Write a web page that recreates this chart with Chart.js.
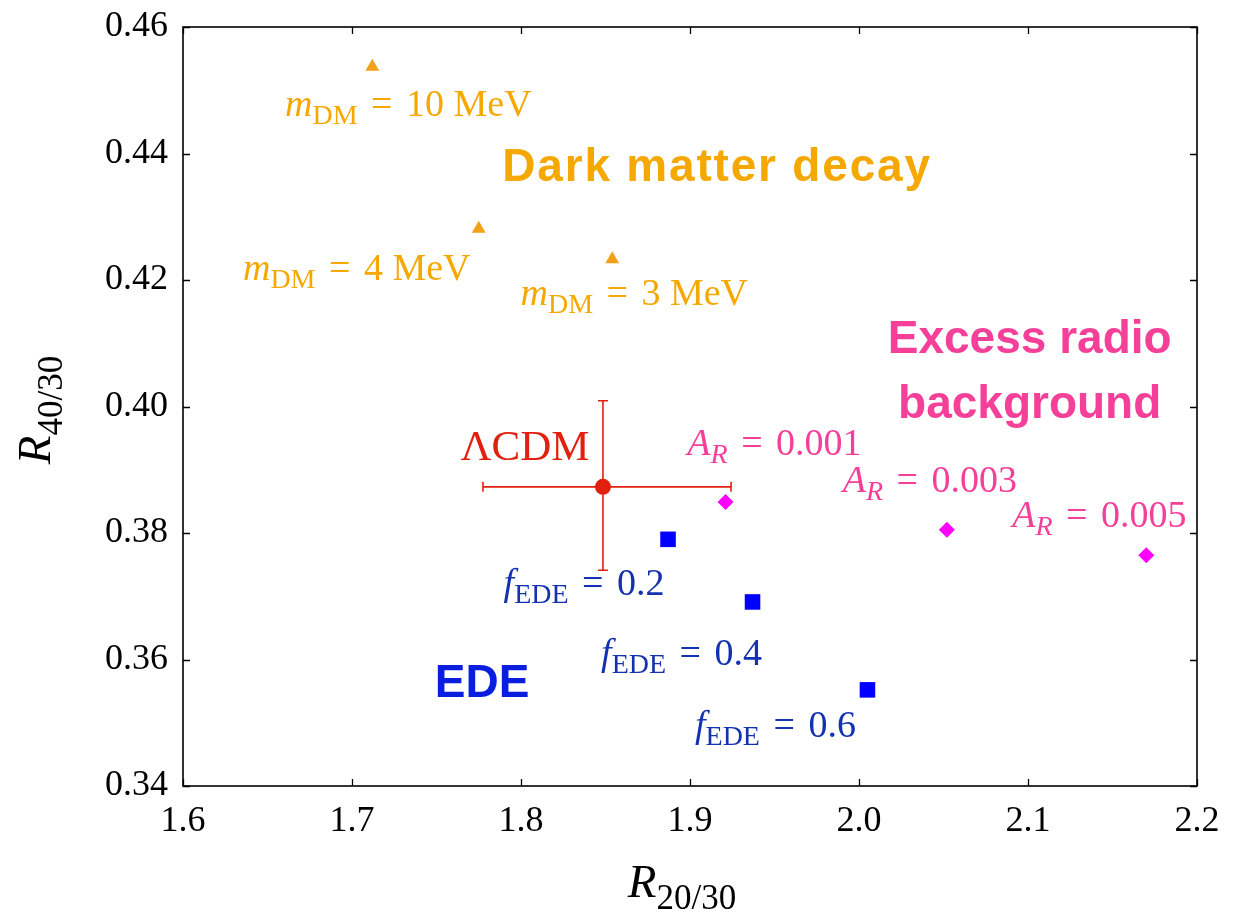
<!DOCTYPE html>
<html><head><meta charset="utf-8">
<script src="https://cdn.jsdelivr.net/npm/chart.js@4.4.1/dist/chart.umd.min.js"></script>
<style>html,body{margin:0;padding:0;background:#fff}</style></head>
<body>
<canvas id="c" width="1236" height="923"></canvas>
<script>
// ---- data ----
const dmX = [1.712, 1.775, 1.854];
const dmY = [0.4537, 0.4281, 0.4233];
const dmMass = ['10', '4', '3'];

const lcdmX = [1.8485];
const lcdmY = [0.3873];
const lcdmXLow = [1.7775];
const lcdmXHigh = [1.9243];
const lcdmYLow = [0.3741];
const lcdmYHigh = [0.4009];

const edeX = [1.887, 1.937, 2.005];
const edeY = [0.3790, 0.3691, 0.3552];
const edeF = ['0.2', '0.4', '0.6'];

const radioX = [1.921, 2.052, 2.170];
const radioY = [0.3849, 0.3805, 0.3765];
const radioA = ['0.001', '0.003', '0.005'];

const xTickVals = [1.6, 1.7, 1.8, 1.9, 2.0, 2.1, 2.2];
const yTickVals = [0.34, 0.36, 0.38, 0.40, 0.42, 0.44, 0.46];

// ---- styling ----
const SERIF = '"Liberation Serif", "DejaVu Serif", serif';
const SANS = '"Liberation Sans", Arial, sans-serif';
const C_OR = '#F5A800', C_ORM = '#F2A01A';
const C_RED = '#E2200F';
const C_BLUE = '#0000FF', C_BLUE_T = '#1432B0', C_BLUE_H = '#0A1EE0';
const C_MAG = '#FF00FF', C_PINK = '#F5409A';

const pts = (xs, ys) => xs.map((x, i) => ({x, y: ys[i]}));

function drawRich(ctx, segs, cx, base, color, align) {
  ctx.save();
  ctx.fillStyle = color;
  ctx.textBaseline = 'alphabetic';
  ctx.textAlign = 'left';
  let w = 0;
  for (const s of segs) { ctx.font = s.f; w += ctx.measureText(s.t).width + (s.gap || 0); }
  let x = align === 'left' ? cx : cx - w / 2;
  for (const s of segs) {
    ctx.font = s.f;
    ctx.fillText(s.t, x, base + (s.dy || 0));
    x += ctx.measureText(s.t).width + (s.gap || 0);
  }
  ctx.restore();
}

const MS = 38, SS = 28;
const it = (t, sz) => ({t, f: `italic ${sz || MS}px ${SERIF}`});
const up = (t, sz, gap) => ({t, f: `${sz || MS}px ${SERIF}`, gap: gap || 0});
const sub = (t, ital) => ({t, f: `${ital ? 'italic ' : ''}${SS}px ${SERIF}`, dy: 8, gap: 0});

function mathLabel(sym, subTxt, subItal, rhs) {
  return [it(sym), sub(subTxt, subItal), up(' ', MS, 4), up('=', MS, 4), up(' ' + rhs)];
}

const annot = {
  id: 'annot',
  beforeDatasetsDraw(chart) {
    const {ctx, scales: {x, y}} = chart;
    ctx.save();
    ctx.strokeStyle = C_RED;
    ctx.lineWidth = 1.6;
    for (let i = 0; i < lcdmX.length; i++) {
      const px = x.getPixelForValue(lcdmX[i]), py = y.getPixelForValue(lcdmY[i]);
      const x0 = x.getPixelForValue(lcdmXLow[i]), x1 = x.getPixelForValue(lcdmXHigh[i]);
      const y0 = y.getPixelForValue(lcdmYLow[i]), y1 = y.getPixelForValue(lcdmYHigh[i]);
      const cap = 5;
      ctx.beginPath();
      ctx.moveTo(x0, py); ctx.lineTo(x1, py);
      ctx.moveTo(x0, py - cap); ctx.lineTo(x0, py + cap);
      ctx.moveTo(x1, py - cap); ctx.lineTo(x1, py + cap);
      ctx.moveTo(px, y0); ctx.lineTo(px, y1);
      ctx.moveTo(px - cap, y0); ctx.lineTo(px + cap, y0);
      ctx.moveTo(px - cap, y1); ctx.lineTo(px + cap, y1);
      ctx.stroke();
    }
    ctx.restore();
  },
  afterDatasetsDraw(chart) {
    const {ctx, chartArea: a, scales: {x, y}} = chart;
    // frame
    ctx.save();
    ctx.strokeStyle = '#000';
    ctx.lineWidth = 1.6;
    ctx.strokeRect(a.left, a.top, a.right - a.left, a.bottom - a.top);
    const tl = 7;
    ctx.beginPath();
    for (const v of xTickVals) {
      const px = Math.round(x.getPixelForValue(v)) + 0.5;
      ctx.moveTo(px, a.bottom); ctx.lineTo(px, a.bottom - tl);
      ctx.moveTo(px, a.top); ctx.lineTo(px, a.top + tl);
    }
    for (const v of yTickVals) {
      const py = Math.round(y.getPixelForValue(v)) + 0.5;
      ctx.moveTo(a.left, py); ctx.lineTo(a.left + tl, py);
      ctx.moveTo(a.right, py); ctx.lineTo(a.right - tl, py);
    }
    ctx.lineWidth = 1.3;
    ctx.stroke();
    ctx.restore();

    // axis titles
    drawRich(ctx, [{t: 'R', f: `italic 47px ${SERIF}`}, {t: '20/30', f: `35px ${SERIF}`, dy: 12}],
      682, 897, '#000');
    ctx.save();
    ctx.translate(50, 410);
    ctx.rotate(-Math.PI / 2);
    drawRich(ctx, [{t: 'R', f: `italic 47px ${SERIF}`}, {t: '40/30', f: `35px ${SERIF}`, dy: 12}],
      0, 0, '#000');
    ctx.restore();

    const P = (xs, ys, i) => [x.getPixelForValue(xs[i]), y.getPixelForValue(ys[i])];

    // dark matter labels
    const dmOff = [[36, 49], [-122, 51], [22, 46]];
    dmX.forEach((_, i) => {
      const [px, py] = P(dmX, dmY, i);
      drawRich(ctx, mathLabel('m', 'DM', false, dmMass[i] + ' MeV'), px + dmOff[i][0], py + dmOff[i][1], C_OR);
    });
    // radio labels
    const raOff = [[49, -47], [-17, -38], [-47, -28]];
    radioX.forEach((_, i) => {
      const [px, py] = P(radioX, radioY, i);
      drawRich(ctx, mathLabel('A', 'R', true, radioA[i]), px + raOff[i][0], py + raOff[i][1], C_PINK);
    });
    // EDE labels
    const edOff = [[-84, 56], [-71, 63], [-92, 47]];
    edeX.forEach((_, i) => {
      const [px, py] = P(edeX, edeY, i);
      drawRich(ctx, mathLabel('f', 'EDE', false, edeF[i]), px + edOff[i][0], py + edOff[i][1], C_BLUE_T);
    });
    // LCDM label
    {
      const [px, py] = P(lcdmX, lcdmY, 0);
      drawRich(ctx, [up('\u039BCDM', 43)], px - 78, py - 27, C_RED);
    }
    // group titles (data coordinates)
    const grp = (txt, gx, gy, col, ls) => {
      ctx.save();
      ctx.font = `bold 46px ${SANS}`;
      if (ls) ctx.letterSpacing = ls;
      ctx.fillStyle = col;
      ctx.textAlign = 'center';
      ctx.textBaseline = 'middle';
      ctx.fillText(txt, x.getPixelForValue(gx), y.getPixelForValue(gy));
      ctx.restore();
    };
    grp('Dark matter decay', 1.916, 0.4377, C_OR, '1.8px');
    grp('Excess radio', 2.101, 0.4105, C_PINK);
    grp('background', 2.101, 0.4002, C_PINK);
    grp('EDE', 1.777, 0.356, C_BLUE_H);
  }
};

const noPad = s => { s.paddingTop = 0; s.paddingBottom = 0; s.paddingLeft = 0; s.paddingRight = 0; };

new Chart(document.getElementById('c'), {
  type: 'scatter',
  data: {
    datasets: [
      {label: 'Dark matter decay', data: pts(dmX, dmY), pointStyle: 'triangle', pointRadius: 8,
        backgroundColor: C_ORM, borderColor: C_ORM, borderWidth: 0},
      {label: 'LCDM', data: pts(lcdmX, lcdmY), pointStyle: 'circle', pointRadius: 8,
        backgroundColor: C_RED, borderColor: C_RED, borderWidth: 0},
      {label: 'EDE', data: pts(edeX, edeY), pointStyle: 'rect', pointRadius: 11,
        backgroundColor: C_BLUE, borderColor: C_BLUE, borderWidth: 0},
      {label: 'Excess radio', data: pts(radioX, radioY), pointStyle: 'rectRot', pointRadius: 8,
        backgroundColor: C_MAG, borderColor: C_MAG, borderWidth: 0}
    ]
  },
  options: {
    responsive: false,
    animation: false,
    devicePixelRatio: 1,
    layout: {padding: {left: 0, top: 27, right: 39, bottom: 0}},
    plugins: {legend: {display: false}, tooltip: {enabled: false}},
    scales: {
      x: {
        type: 'linear', min: 1.6, max: 2.2,
        afterFit: s => { s.height = 137; noPad(s); },
        afterBuildTicks: s => { s.ticks = xTickVals.map(v => ({value: v})); },
        grid: {display: false, drawTicks: false},
        border: {display: false},
        ticks: {padding: 14, color: '#000', font: {family: SERIF, size: 36},
          callback: v => Number(v).toFixed(1), maxRotation: 0}
      },
      y: {
        type: 'linear', min: 0.34, max: 0.46,
        afterFit: s => { s.width = 183; noPad(s); },
        afterBuildTicks: s => { s.ticks = yTickVals.map(v => ({value: v})); },
        grid: {display: false, drawTicks: false},
        border: {display: false},
        ticks: {padding: 15, color: '#000', font: {family: SERIF, size: 36},
          callback: v => Number(v).toFixed(2)}
      }
    }
  },
  plugins: [annot]
});
</script>
</body></html>
